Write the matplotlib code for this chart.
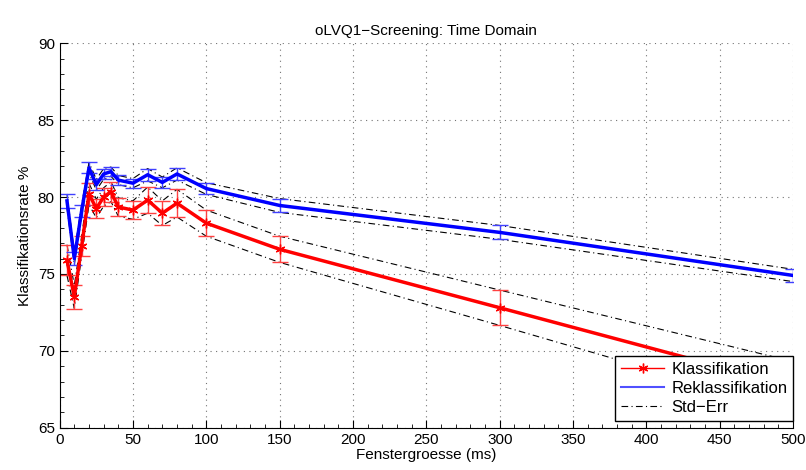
import matplotlib.pyplot as plt
import numpy as np
from matplotlib.ticker import MultipleLocator

plt.rcParams['font.family'] = ['Liberation Sans', 'DejaVu Sans']

# Fenstergroesse (ms)
fenster = [5, 10, 15, 20, 25, 30, 35, 40, 50, 60, 70, 80, 100, 150, 300, 500]

# Klassifikation (rot) und Standardfehler
klass = [75.9, 73.5, 76.8, 80.2, 79.25, 80.0, 80.35, 79.35, 79.15, 79.8, 78.95, 79.6, 78.3, 76.6, 72.8, 67.7]
klass_err = [1.0, 0.75, 0.65, 0.7, 0.6, 0.6, 0.65, 0.6, 0.6, 0.85, 0.8, 0.9, 0.85, 0.85, 1.15, 1.6]

# Reklassifikation (blau) und Standardfehler
reklass = [79.75, 76.0, 79.1, 81.9, 80.8, 81.5, 81.65, 81.1, 80.9, 81.45, 80.95, 81.5, 80.55, 79.45, 77.7, 74.9]
reklass_err = [0.45, 0.4, 0.4, 0.35, 0.35, 0.35, 0.3, 0.3, 0.3, 0.4, 0.35, 0.4, 0.38, 0.45, 0.45, 0.4]

x = np.array(fenster)
k = np.array(klass)
ke = np.array(klass_err)
r = np.array(reklass)
re_ = np.array(reklass_err)

fig = plt.figure(figsize=(8.06, 4.70), dpi=100)
ax = fig.add_axes([0.074, 0.09, 0.91, 0.818])

asterisk = (6, 2, 0)
dd = (6, 3, 1, 3)

# Std-Err Linien
for y in (k + ke, k - ke, r + re_, r - re_):
    ax.plot(x, y, color='black', lw=0.8, dashes=dd)

ax.errorbar(x, k, yerr=ke, fmt='none', ecolor='#ff4040', elinewidth=1.0, capsize=6, capthick=1.0)
ax.errorbar(x, r, yerr=re_, fmt='none', ecolor='#4040ff', elinewidth=1.0, capsize=6, capthick=1.0)

ax.plot(x, k, color='red', lw=2.5, marker=asterisk, ms=7, mew=1)
ax.plot(x, r, color='blue', lw=2.5)

# Legende
h1, = ax.plot([], [], color='red', lw=1, marker=asterisk, ms=7, mew=1)
h2, = ax.plot([], [], color='#5050ff', lw=1.5)
h3, = ax.plot([], [], color='black', lw=0.8, dashes=dd)
leg = ax.legend([h1, h2, h3], ['Klassifikation', 'Reklassifikation', 'Std\u2212Err'],
                loc='lower right', bbox_to_anchor=(1.0, 0.018), borderaxespad=0,
                fancybox=False, framealpha=1, edgecolor='black', fontsize=12,
                handlelength=2.6, labelspacing=0.25, borderpad=0.35, handletextpad=0.4)
leg.get_frame().set_linewidth(1.0)

ax.set_xlim(0, 500)
ax.set_ylim(65, 90)
ax.set_xticks(np.arange(0, 501, 50))
ax.set_yticks(np.arange(65, 91, 5))
ax.xaxis.set_minor_locator(MultipleLocator(10))
ax.yaxis.set_minor_locator(MultipleLocator(1))
ax.tick_params(direction='in', which='both', labelsize=11, top=False, right=False)
ax.tick_params(which='major', length=6)
ax.tick_params(which='minor', length=3)
ax.grid(True, which='major', color='0.45', lw=0.8, dashes=(1, 4))
ax.spines['top'].set_visible(False)
ax.spines['right'].set_visible(False)

ax.set_title('oLVQ1\u2212Screening: Time Domain', fontsize=11)
ax.set_xlabel('Fenstergroesse (ms)', fontsize=11, labelpad=1)
ax.set_ylabel('Klassifikationsrate %', fontsize=11)

fig.savefig('out.png', dpi=100)
